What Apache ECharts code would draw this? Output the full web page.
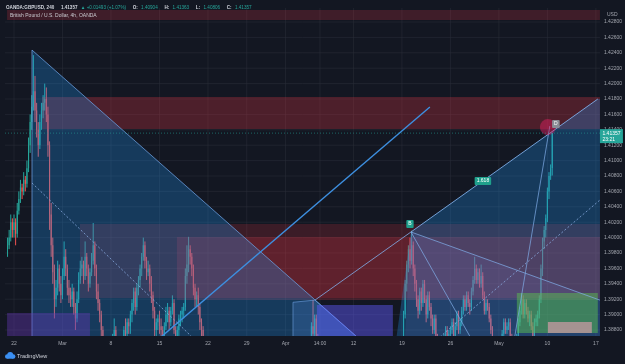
<!DOCTYPE html>
<html><head><meta charset="utf-8">
<script src="https://cdn.jsdelivr.net/npm/echarts@6/dist/echarts.min.js"></script>
<style>html,body{margin:0;padding:0;background:#131722;overflow:hidden}#c{width:625px;height:364px}</style>
</head><body><div id="c"></div><script>
// ---------- axis values ----------
const xTickPos = [0, 30, 60, 90, 120, 144, 168, 189.3, 210, 240, 270, 300, 330, 360];
const xTickLabels = ['22', 'Mar', '8', '15', '22', '29', 'Apr', '14:00', '12', '19', '26', 'May', '10', '17'];
const yTicks = [1.388, 1.390, 1.392, 1.394, 1.396, 1.398, 1.400, 1.402, 1.404, 1.406, 1.408, 1.410, 1.412, 1.414, 1.416, 1.418, 1.420, 1.422, 1.424, 1.426, 1.428];
const X_MIN = -5.57, X_MAX = 362.5, Y_MIN = 1.38722, Y_MAX = 1.42982;

// ---------- 4h candles [open, high, low, close] ----------
const febMarStart = -4;
const febMarBars = [
[1.3985,1.4000,1.3975,1.3990],[1.3990,1.4010,1.3985,1.4000],[1.4000,1.4030,1.3995,1.4020],[1.4020,1.4025,1.4000,1.4010],
[1.4010,1.4030,1.4000,1.4020],[1.4020,1.4025,1.3990,1.4005],[1.4005,1.4045,1.4000,1.4035],[1.4035,1.4060,1.4030,1.4050],
[1.4050,1.4075,1.4045,1.4065],[1.4065,1.4070,1.4050,1.4060],[1.4060,1.4085,1.4055,1.4075],[1.4075,1.4080,1.4060,1.4070],
[1.4070,1.4100,1.4065,1.4090],[1.4090,1.4130,1.4085,1.4120],[1.4120,1.4160,1.4110,1.4150],[1.4150,1.4185,1.4140,1.4170],
[1.4170,1.4237,1.4165,1.4190],[1.4190,1.4210,1.4150,1.4165],[1.4165,1.4175,1.4130,1.4140],[1.4140,1.4150,1.4105,1.4120],
[1.4120,1.4160,1.4115,1.4150],[1.4150,1.4175,1.4140,1.4165],[1.4165,1.4185,1.4155,1.4175],[1.4175,1.4200,1.4165,1.4180],
[1.4180,1.4195,1.4150,1.4160],[1.4160,1.4170,1.4105,1.4120],[1.4120,1.4125,1.4010,1.4030],[1.4030,1.4045,1.3975,1.3990],
[1.3990,1.4000,1.3940,1.3955],[1.3955,1.3965,1.3895,1.3920],[1.3920,1.3945,1.3910,1.3935],[1.3935,1.3970,1.3925,1.3960],
[1.3960,1.3965,1.3930,1.3940],[1.3940,1.3950,1.3915,1.3925],[1.3925,1.3960,1.3920,1.3950],[1.3950,1.3995,1.3945,1.3975],
[1.3975,1.3985,1.3950,1.3960],[1.3960,1.3965,1.3925,1.3935],[1.3935,1.3945,1.3915,1.3925],[1.3925,1.3935,1.3910,1.3920],
[1.3920,1.3940,1.3910,1.3930],[1.3930,1.3935,1.3900,1.3910],[1.3910,1.3915,1.3880,1.3895],[1.3895,1.3930,1.3890,1.3920],
[1.3920,1.3955,1.3915,1.3945],[1.3945,1.3970,1.3940,1.3960],[1.3960,1.3975,1.3950,1.3965],[1.3965,1.3970,1.3940,1.3950],
[1.3950,1.3995,1.3945,1.3975],[1.3975,1.3980,1.3950,1.3960],[1.3960,1.3965,1.3930,1.3940],[1.3940,1.3960,1.3935,1.3955],
[1.3955,1.3980,1.3950,1.3970],[1.3970,1.4019,1.3965,1.3990],[1.3990,1.3995,1.3950,1.3960],[1.3960,1.3965,1.3920,1.3930],
[1.3930,1.3940,1.3905,1.3915],[1.3915,1.3920,1.3890,1.3900],[1.3900,1.3905,1.3870,1.3880],[1.3880,1.3885,1.3850,1.3860],
[1.3860,1.3865,1.3820,1.3830],[1.3830,1.3840,1.3790,1.3800],[1.3800,1.3835,1.3778,1.3825],[1.3825,1.3840,1.3815,1.3830],
[1.3830,1.3855,1.3820,1.3850],[1.3850,1.3875,1.3840,1.3870],[1.3870,1.3895,1.3860,1.3880],[1.3880,1.3885,1.3850,1.3860],
[1.3860,1.3865,1.3825,1.3830],[1.3830,1.3840,1.3800,1.3820],[1.3820,1.3845,1.3810,1.3840],[1.3840,1.3870,1.3835,1.3865],
[1.3865,1.3885,1.3855,1.3880],[1.3880,1.3895,1.3865,1.3875],[1.3875,1.3895,1.3870,1.3890],[1.3890,1.3895,1.3875,1.3885],
[1.3885,1.3905,1.3875,1.3900],[1.3900,1.3920,1.3890,1.3915],[1.3915,1.3935,1.3905,1.3930],[1.3930,1.3935,1.3900,1.3910],
[1.3910,1.3940,1.3905,1.3935],[1.3935,1.3950,1.3925,1.3945],[1.3945,1.3965,1.3935,1.3960],[1.3960,1.3980,1.3950,1.3975],
[1.3975,1.4000,1.3970,1.3990],[1.3990,1.3995,1.3960,1.3970],[1.3970,1.3975,1.3945,1.3955],[1.3955,1.3970,1.3950,1.3960],
[1.3960,1.3965,1.3930,1.3940],[1.3940,1.3950,1.3915,1.3925],[1.3925,1.3930,1.3895,1.3905],[1.3905,1.3910,1.3865,1.3880],
[1.3880,1.3895,1.3870,1.3890],[1.3890,1.3900,1.3880,1.3895],[1.3895,1.3905,1.3875,1.3885],[1.3885,1.3895,1.3870,1.3880],
[1.3880,1.3885,1.3850,1.3870],[1.3870,1.3890,1.3860,1.3885],[1.3885,1.3910,1.3880,1.3900],[1.3900,1.3915,1.3890,1.3905],
[1.3905,1.3910,1.3880,1.3890],[1.3890,1.3910,1.3885,1.3905],[1.3905,1.3925,1.3900,1.3915],[1.3915,1.3920,1.3875,1.3880],
[1.3880,1.3885,1.3860,1.3870],[1.3870,1.3885,1.3865,1.3880],[1.3880,1.3900,1.3870,1.3895],[1.3895,1.3905,1.3885,1.3900],
[1.3900,1.3910,1.3890,1.3905],[1.3905,1.3915,1.3895,1.3910],[1.3910,1.3960,1.3905,1.3950],[1.3950,1.3990,1.3940,1.3965],
[1.3965,1.4001,1.3955,1.3985],[1.3985,1.3990,1.3965,1.3975],[1.3975,1.3980,1.3950,1.3960],[1.3960,1.3965,1.3925,1.3935],
[1.3935,1.3940,1.3910,1.3920],[1.3920,1.3930,1.3910,1.3925],[1.3925,1.3935,1.3900,1.3910],[1.3910,1.3915,1.3880,1.3890],
[1.3890,1.3895,1.3865,1.3880],[1.3880,1.3885,1.3850,1.3860],[1.3860,1.3870,1.3840,1.3850],[1.3850,1.3865,1.3840,1.3860]
];
const aprStart = 182;
const aprBars = [
[1.3830,1.3850,1.3820,1.3840],[1.3840,1.3865,1.3835,1.3860],[1.3860,1.3890,1.3855,1.3885],[1.3885,1.3919,1.3870,1.3875],
[1.3875,1.3900,1.3865,1.3895],[1.3895,1.3900,1.3860,1.3870],[1.3870,1.3875,1.3840,1.3850],[1.3850,1.3860,1.3830,1.3840]
];
const aprMayStart = 238;
const aprMayBars = [
[1.3830,1.3845,1.3825,1.3835],[1.3835,1.3850,1.3830,1.3840],[1.3840,1.3870,1.3835,1.3865],[1.3865,1.3905,1.3860,1.3900],
[1.3900,1.3945,1.3895,1.3940],[1.3940,1.3970,1.3930,1.3965],[1.3965,1.3990,1.3955,1.3985],[1.3985,1.4000,1.3960,1.3970],
[1.3970,1.4009,1.3965,1.3990],[1.3990,1.3995,1.3950,1.3960],[1.3960,1.3965,1.3930,1.3940],[1.3940,1.3945,1.3910,1.3920],
[1.3920,1.3925,1.3895,1.3905],[1.3905,1.3935,1.3900,1.3930],[1.3930,1.3935,1.3905,1.3915],[1.3915,1.3945,1.3910,1.3940],
[1.3940,1.3945,1.3915,1.3920],[1.3920,1.3925,1.3890,1.3900],[1.3900,1.3930,1.3895,1.3925],[1.3925,1.3930,1.3905,1.3910],
[1.3910,1.3915,1.3885,1.3895],[1.3895,1.3900,1.3875,1.3880],[1.3880,1.3900,1.3875,1.3895],[1.3895,1.3900,1.3865,1.3870],
[1.3870,1.3875,1.3845,1.3850],[1.3850,1.3860,1.3835,1.3845],[1.3845,1.3865,1.3840,1.3860],[1.3860,1.3865,1.3845,1.3850],
[1.3850,1.3875,1.3845,1.3870],[1.3870,1.3885,1.3865,1.3880],[1.3880,1.3885,1.3860,1.3865],[1.3865,1.3880,1.3860,1.3875],
[1.3875,1.3885,1.3865,1.3880],[1.3880,1.3895,1.3875,1.3890],[1.3890,1.3895,1.3865,1.3870],[1.3870,1.3890,1.3865,1.3885],
[1.3885,1.3905,1.3880,1.3900],[1.3900,1.3905,1.3875,1.3880],[1.3880,1.3895,1.3875,1.3890],[1.3890,1.3910,1.3885,1.3905],
[1.3905,1.3925,1.3900,1.3920],[1.3920,1.3925,1.3905,1.3910],[1.3910,1.3930,1.3905,1.3925],[1.3925,1.3930,1.3910,1.3915],
[1.3915,1.3920,1.3900,1.3910],[1.3910,1.3935,1.3905,1.3930],[1.3930,1.3950,1.3925,1.3945],[1.3945,1.3975,1.3940,1.3960],
[1.3960,1.3965,1.3940,1.3945],[1.3945,1.3960,1.3940,1.3955],[1.3955,1.3960,1.3935,1.3940],[1.3940,1.3965,1.3935,1.3950],
[1.3950,1.3955,1.3920,1.3925],[1.3925,1.3930,1.3900,1.3905],[1.3905,1.3920,1.3900,1.3915],[1.3915,1.3920,1.3905,1.3910],
[1.3910,1.3915,1.3890,1.3895],[1.3895,1.3900,1.3875,1.3880],[1.3880,1.3885,1.3855,1.3860],[1.3860,1.3865,1.3825,1.3830],
[1.3830,1.3835,1.3810,1.3820],[1.3820,1.3830,1.3810,1.3825],[1.3825,1.3845,1.3815,1.3840],[1.3840,1.3865,1.3835,1.3860],
[1.3860,1.3880,1.3855,1.3875],[1.3875,1.3895,1.3870,1.3890],[1.3890,1.3895,1.3875,1.3880],[1.3880,1.3890,1.3875,1.3885],
[1.3885,1.3895,1.3880,1.3890],[1.3890,1.3895,1.3865,1.3870],[1.3870,1.3875,1.3850,1.3860],[1.3860,1.3865,1.3800,1.3840],
[1.3840,1.3860,1.3835,1.3855],[1.3855,1.3875,1.3850,1.3870],[1.3870,1.3895,1.3865,1.3890],[1.3890,1.3910,1.3885,1.3905],
[1.3905,1.3928,1.3900,1.3920],[1.3920,1.3925,1.3895,1.3900],[1.3900,1.3920,1.3895,1.3915],[1.3915,1.3920,1.3900,1.3905],
[1.3905,1.3910,1.3890,1.3895],[1.3895,1.3905,1.3885,1.3900],[1.3900,1.3905,1.3880,1.3885],[1.3885,1.3890,1.3860,1.3870],
[1.3870,1.3895,1.3865,1.3890],[1.3890,1.3900,1.3885,1.3895],[1.3895,1.3905,1.3885,1.3900],[1.3900,1.3925,1.3895,1.3920],
[1.3920,1.3965,1.3915,1.3960],[1.3960,1.4000,1.3950,1.3995],[1.3995,1.4015,1.3985,1.4010],[1.4010,1.4030,1.4000,1.4025],
[1.4025,1.4065,1.4020,1.4060],[1.4060,1.4085,1.4050,1.4080],[1.4080,1.4095,1.4075,1.4090],[1.40904,1.41363,1.40806,1.41357]
];
const lastBar = [1.40904, 1.41363, 1.40806, 1.41357]; // O H L C of the header
const lastChange = [0.01493, 1.07];
const lastTimer = '23:21';

// ---------- drawings (bar index, price) ----------
const rectTopBand = [-4.3, 362.5, 1.42826, 1.42956];
const rectSupply = [17.3, 362.5, 1.41410, 1.41826];
const rectMidA = [40.8, 362.5, 1.39214, 1.40177];
const rectMidB = [100.8, 362.5, 1.39188, 1.40008];
const rectPurple = [-4.3, 47, 1.380, 1.3902];
const rectViolet = [187.4, 234.4, 1.380, 1.39125];
const rectGreen = [311.1, 361.2, 1.38761, 1.3928];
const rectPink = [330.3, 357.5, 1.38761, 1.38904];
const polyXAB = [[11.13, 1.42436], [11.13, 1.380], [250.5, 1.380]];
const polyLower = [[172.6, 1.3916], [186.2, 1.39188], [212.2, 1.3871], [212.2, 1.380], [172.6, 1.380]];
const polyRight = [[245.6, 1.40073], [361.2, 1.4180], [362.5, 1.4180], [362.5, 1.380], [232, 1.380]];
const polyLight = [[245.6, 1.40073], [362.5, 1.39188], [362.5, 1.380], [240, 1.380]];
const lineTrend = [[91.0, 1.3871], [257.3, 1.41696]];
const lineAB = [[186.2, 1.39188], [245.6, 1.40073]];
const lineExt = [[245.6, 1.40073], [361.2, 1.4180]];
const lineBR = [[245.6, 1.40073], [362.5, 1.39188]];
const lineBC = [[245.6, 1.40073], [303.5, 1.3792]];
const lineCD = [[303.5, 1.3792], [331.5, 1.4145]];
const dotLeft = [[11.13, 1.40709], [110.1, 1.3871]];
const dotRight = [[263.5, 1.3871], [362.5, 1.40488]];
const pointB = [245.6, 1.40073];
const pointD = [330.3, 1.41436];
const ratioPoint = [290.1, 1.40735];
const ratioText = '1.618';

// ---------- build ----------
function flat(start, bars) { return bars.map((b, k) => [start + k, b[0], b[1], b[2], b[3]]); }
const candles = flat(febMarStart, febMarBars).concat(flat(aprStart, aprBars), flat(aprMayStart, aprMayBars));

const UP = '#26a69a', DOWN = '#ef5350';
const FONT = '"Liberation Sans", Arial, sans-serif';

function rectSeries(r, fill, z, stroke) {
  return {
    type: 'custom', z: z, clip: true, silent: true, data: [r],
    renderItem: (p, api) => {
      const a = api.coord([api.value(0), api.value(3)]);
      const b = api.coord([api.value(1), api.value(2)]);
      return { type: 'rect', shape: { x: a[0], y: a[1], width: b[0] - a[0], height: b[1] - a[1] },
        style: { fill: fill, stroke: stroke || null, lineWidth: 1 } };
    }
  };
}
function polySeries(pts, fill, z, stroke) {
  return {
    type: 'custom', z: z, clip: true, silent: true, data: pts,
    renderItem: (p, api) => {
      if (p.dataIndex !== 0) return;
      return { type: 'polygon', shape: { points: pts.map(q => api.coord(q)) },
        style: { fill: fill, stroke: stroke || null, lineWidth: 1 } };
    }
  };
}
function lineSeries(pts, color, width, z, dash) {
  return {
    type: 'custom', z: z, clip: true, silent: true, data: pts,
    renderItem: (p, api) => {
      if (p.dataIndex !== 0) return;
      return { type: 'polyline', shape: { points: pts.map(q => api.coord(q)) },
        style: { stroke: color, lineWidth: width, fill: null, lineDash: dash || null } };
    }
  };
}
function tagSeries(pt, text, bg, dy, dx, z) {
  return {
    type: 'custom', z: z, clip: false, silent: true, data: [pt],
    renderItem: (p, api) => {
      const c = api.coord([api.value(0), api.value(1)]);
      return { type: 'text', x: c[0] + dx, y: c[1] + dy,
        style: { text: text, fill: '#ffffff', font: '5px ' + FONT, align: 'center', verticalAlign: 'middle',
          backgroundColor: bg, padding: [1.5, 2], borderRadius: 1 } };
    }
  };
}

const series = [
  // faint grid
  { type: 'custom', z: 0, silent: true, data: xTickPos,
    renderItem: (p, api) => { const x = api.value(0); const a = api.coord([x, Y_MAX]), b = api.coord([x, Y_MIN]);
      return { type: 'line', shape: { x1: a[0], y1: a[1], x2: b[0], y2: b[1] }, style: { stroke: 'rgba(42,46,57,0.55)', lineWidth: 1 } }; } },
  { type: 'custom', z: 0, silent: true, data: yTicks.map(v => [0, v]),
    renderItem: (p, api) => { const v = api.value(1); const a = api.coord([X_MIN, v]), b = api.coord([X_MAX, v]);
      return { type: 'line', shape: { x1: a[0], y1: a[1], x2: b[0], y2: b[1] }, style: { stroke: 'rgba(42,46,57,0.55)', lineWidth: 1 } }; } },
  // candles
  { type: 'custom', z: 1, clip: true, silent: true, data: candles,
    renderItem: (p, api) => {
      const x = api.value(0), o = api.value(1), h = api.value(2), l = api.value(3), c = api.value(4);
      const po = api.coord([x, o]), pc = api.coord([x, c]), ph = api.coord([x, h]), pl = api.coord([x, l]);
      const col = c >= o ? UP : DOWN;
      const w = Math.max(1, api.size([1, 0])[0] * 0.7);
      return { type: 'group', children: [
        { type: 'line', shape: { x1: ph[0], y1: ph[1], x2: pl[0], y2: pl[1] }, style: { stroke: col, lineWidth: 1 } },
        { type: 'rect', shape: { x: po[0] - w / 2, y: Math.min(po[1], pc[1]), width: w, height: Math.max(1, Math.abs(po[1] - pc[1])) }, style: { fill: col } }
      ] };
    }
  },
  // zones
  rectSeries(rectTopBand, 'rgba(242,54,69,0.2)', 2),
  rectSeries(rectSupply, 'rgba(242,54,69,0.26)', 2),
  rectSeries(rectMidA, 'rgba(242,54,69,0.18)', 2),
  rectSeries(rectMidB, 'rgba(242,54,69,0.2)', 2),
  polySeries(polyXAB, 'rgba(33,150,243,0.28)', 2, 'rgba(110,160,225,0.75)'),
  polySeries(polyLower, 'rgba(90,150,240,0.22)', 2, 'rgba(110,160,225,0.6)'),
  polySeries(polyRight, 'rgba(33,150,243,0.28)', 2),
  polySeries(polyLight, 'rgba(130,130,230,0.12)', 2),
  rectSeries(rectPurple, 'rgba(103,58,183,0.4)', 2),
  rectSeries(rectViolet, 'rgba(98,90,255,0.45)', 2),
  rectSeries(rectGreen, 'rgba(90,190,80,0.5)', 2),
  rectSeries(rectPink, 'rgba(236,160,180,0.6)', 2),
  // lines
  lineSeries(lineTrend, '#3d8fe0', 1.4, 3),
  lineSeries(lineAB, 'rgba(130,175,235,0.8)', 1, 3),
  lineSeries(lineExt, 'rgba(130,180,240,0.85)', 1, 3),
  lineSeries(lineBR, 'rgba(130,175,235,0.7)', 1, 3),
  lineSeries(lineBC, 'rgba(130,175,235,0.7)', 1, 3),
  lineSeries(lineCD, 'rgba(130,175,235,0.7)', 1, 3),
  lineSeries(dotLeft, 'rgba(140,175,230,0.75)', 1, 3, [2, 2]),
  lineSeries(dotRight, 'rgba(140,175,230,0.75)', 1, 3, [2, 2]),
  // D circle
  { type: 'custom', z: 3, clip: true, silent: true, data: [pointD],
    renderItem: (p, api) => { const c = api.coord([api.value(0), api.value(1)]);
      return { type: 'circle', shape: { cx: c[0], cy: c[1], r: 8 }, style: { fill: 'rgba(233,30,99,0.45)' } }; } },
  tagSeries(pointB, 'B', '#1fa08c', -8, -1, 4),
  tagSeries(pointD, 'D', '#8a8d96', -3, 8, 4),
  tagSeries(ratioPoint, ratioText, '#1fa08c', 0, 0, 4),
  // last price line + axis tag
  { type: 'custom', z: 5, clip: false, silent: true, data: [[X_MAX, lastBar[3]]],
    renderItem: (p, api) => {
      const e = api.coord([api.value(0), api.value(1)]);
      const s = api.coord([X_MIN, api.value(1)]);
      return { type: 'group', children: [
        { type: 'line', shape: { x1: s[0], y1: e[1], x2: e[0], y2: e[1] }, style: { stroke: 'rgba(38,166,154,0.55)', lineWidth: 1, lineDash: [1, 2] } },
        { type: 'rect', shape: { x: e[0], y: e[1] - 4, width: 23, height: 14 }, style: { fill: '#26a69a' } },
        { type: 'text', x: e[0] + 2.5, y: e[1] - 3, style: { text: lastBar[3].toFixed(5) + '\n' + lastTimer, fill: '#ffffff', font: '5px ' + FONT, lineHeight: 6.5, align: 'left', verticalAlign: 'top' } }
      ] };
    } }
];

const chart = echarts.init(document.getElementById('c'), null, { renderer: 'canvas' });
chart.setOption({
  backgroundColor: '#131722',
  animation: false,
  grid: { left: 5, right: 25, top: 8, bottom: 28 },
  xAxis: { type: 'value', min: X_MIN, max: X_MAX,
    axisLine: { show: false }, axisTick: { show: false }, splitLine: { show: false },
    axisLabel: { customValues: xTickPos, formatter: v => xTickLabels[xTickPos.indexOf(v)], color: '#a3a6af', fontSize: 5, fontFamily: FONT, margin: 5 } },
  yAxis: { type: 'value', position: 'right', min: Y_MIN, max: Y_MAX, scale: true,
    axisLine: { show: false }, axisTick: { show: false }, splitLine: { show: false },
    axisLabel: { customValues: yTicks, formatter: v => v.toFixed(5), color: '#a3a6af', fontSize: 5, fontFamily: FONT, margin: 4 } },
  graphic: [
    { type: 'text', left: 6, top: 2, z: 10, style: {
      text: '{w|OANDA:GBPUSD, 240}  {w|' + lastBar[3].toFixed(5) + '} {g|▲ +' + lastChange[0].toFixed(5) + ' (+' + lastChange[1].toFixed(2) + '%)}  {w|O:} {g|' + lastBar[0].toFixed(5) + '}  {w|H:} {g|' + lastBar[1].toFixed(5) + '}  {w|L:} {g|' + lastBar[2].toFixed(5) + '}  {w|C:} {g|' + lastBar[3].toFixed(5) + '}',
      rich: { w: { fill: '#d1d4dc', font: 'bold 4.6px ' + FONT }, g: { fill: '#26a69a', font: '4.6px ' + FONT } } } },
    { type: 'text', left: 10, top: 13, z: 10, style: { text: 'British Pound / U.S. Dollar, 4h, OANDA', fill: '#c8c9cf', font: '5px ' + FONT } },
    { type: 'text', left: 607, top: 12, z: 10, style: { text: 'USD', fill: '#a3a6af', font: '5px ' + FONT } },
    { type: 'group', left: 5, top: 352, z: 10, children: [
      { type: 'circle', shape: { cx: 3, cy: 4.5, r: 2.2 }, style: { fill: '#3b8ff2' } },
      { type: 'circle', shape: { cx: 6, cy: 3, r: 3 }, style: { fill: '#3b8ff2' } },
      { type: 'circle', shape: { cx: 9, cy: 4.5, r: 2.2 }, style: { fill: '#3b8ff2' } },
      { type: 'rect', shape: { x: 3, y: 4.5, width: 6, height: 2.2 }, style: { fill: '#3b8ff2' } }
    ] },
    { type: 'text', left: 17, top: 353, z: 10, style: { text: 'TradingView', fill: '#d1d4dc', font: '5.5px ' + FONT } }
  ],
  series: series
});
</script></body></html>
